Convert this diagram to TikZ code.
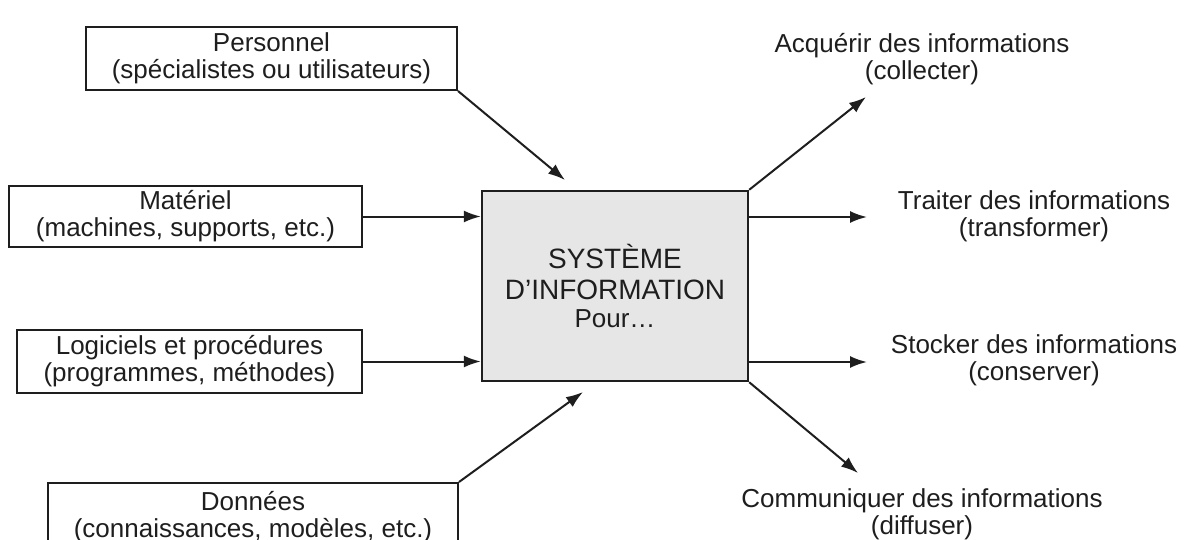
\documentclass[tikz,border=0pt]{standalone}
\usepackage{fontspec}
\setmainfont{Liberation Sans}
\usetikzlibrary{arrows.meta}
\definecolor{ink}{HTML}{1E1E1E}
\definecolor{boxfill}{HTML}{E6E6E6}
\tikzset{
  inbox/.style={draw=ink, line width=1pt, inner sep=0pt, align=center, text=ink,
    font=\fontsize{13}{13.5}\selectfont},
  sysbox/.style={draw=ink, fill=boxfill, line width=1.2pt, inner sep=0pt, align=center, text=ink,
    minimum width=133pt, minimum height=95pt, font=\fontsize{14}{15}\selectfont},
  outlbl/.style={align=center, text=ink, inner sep=0pt, font=\fontsize{13}{13.5}\selectfont},
  arr/.style={draw=ink, line width=1pt, -{Latex[length=8.5pt,width=6pt]}},
}
\begin{document}
\begin{tikzpicture}[x=0.5pt,y=-0.5pt]
\useasboundingbox (0,0) rectangle (1189,540);
% input boxes
\node[inbox, minimum width=185.5pt, minimum height=31.5pt] (pers) at (271.5,58.5) {Personnel\\(spécialistes ou utilisateurs)};
\node[inbox, minimum width=176.5pt, minimum height=30.5pt] (mat) at (185.5,216.5) {Matériel\\(machines, supports, etc.)};
\node[inbox, minimum width=172.5pt, minimum height=31.5pt] (log) at (189.5,361.5) {Logiciels et procédures\\(programmes, méthodes)};
\node[inbox, minimum width=205pt, minimum height=31.5pt] (don) at (253,514.5) {};
\node[outlbl] (dontxt) at (253,517) {Données\\(connaissances, modèles, etc.)};
% central system
\node[sysbox] (sys) at (615,286) {SYSTÈME\\[0.6pt]D’INFORMATION\\[-1pt]{\fontsize{13}{15}\selectfont Pour…}};
% outputs
\node[outlbl] (acq) at (922,59) {Acquérir des informations\\(collecter)};
\node[outlbl] (trt) at (1034,216.5) {Traiter des informations\\(transformer)};
\node[outlbl] (sto) at (1034,360.5) {Stocker des informations\\(conserver)};
\node[outlbl] (com) at (922,514.5) {Communiquer des informations\\(diffuser)};
% arrow tips
\coordinate (tp) at (565,180);
\coordinate (td) at (583,392);
\coordinate (ta) at (866,97);
\coordinate (tt) at (867,217);
\coordinate (ts) at (867,362);
\coordinate (tc) at (858,473);
% input arrows
\draw[arr] (pers.south east) -- (tp);
\draw[arr] (mat.east) -- (mat.east -| sys.west);
\draw[arr] (log.east) -- (log.east -| sys.west);
\draw[arr] (don.north east) -- (td);
% output arrows
\draw[arr] (sys.north east) -- (ta);
\draw[arr] (tt -| sys.east) -- (tt);
\draw[arr] (ts -| sys.east) -- (ts);
\draw[arr] (sys.south east) -- (tc);
\end{tikzpicture}
\end{document}
